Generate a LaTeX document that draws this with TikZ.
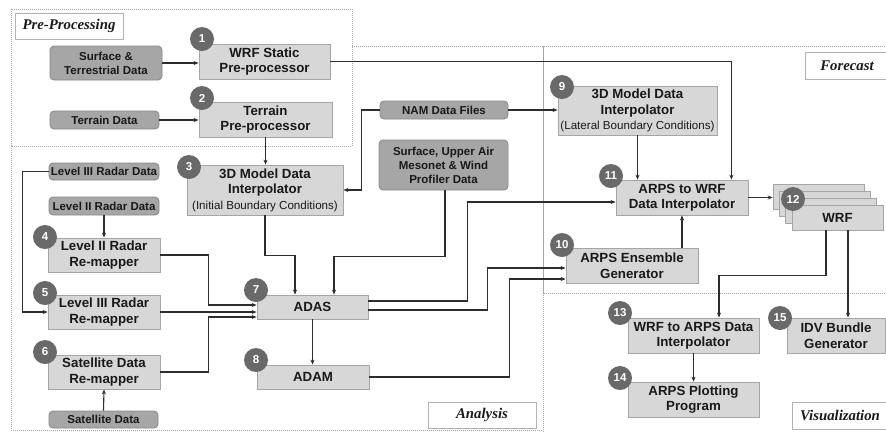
\documentclass[tikz,border=0pt]{standalone}
\usepackage{fontspec}
\setmainfont{Liberation Sans}
\newfontfamily\tagfont{Liberation Serif}
\usetikzlibrary{arrows.meta}

\definecolor{procfill}{RGB}{215,215,215}
\definecolor{procline}{RGB}{165,165,165}
\definecolor{datafill}{RGB}{166,166,166}
\definecolor{dataline}{RGB}{135,135,135}
\definecolor{numfill}{RGB}{105,105,105}
\definecolor{wire}{RGB}{45,45,45}
\definecolor{ink}{RGB}{25,25,25}

% boundary condition note under an interpolator
\newcommand{\bcnote}[1]{{\fontsize{11.6}{13}\selectfont\mdseries #1}}

\begin{document}
\begin{tikzpicture}[x=1pt,y=-1pt,
  proc/.style={draw=procline,fill=procfill,line width=0.8pt,inner sep=1pt,align=center,text=ink,
    font=\fontsize{13.3}{15.5}\selectfont\bfseries},
  data/.style={draw=dataline,fill=datafill,line width=0.8pt,rounded corners=4pt,inner sep=1pt,align=center,text=ink,
    font=\fontsize{11.5}{14}\selectfont\bfseries},
  num/.style={circle,fill=numfill,minimum size=24pt,inner sep=0pt,text=white,
    font=\fontsize{11.5}{12}\selectfont\bfseries},
  region/.style={draw=gray!70,densely dotted,line width=1pt},
  tag/.style={draw=gray!60,fill=white,line width=0.8pt,inner sep=0pt,text=ink,
    font=\tagfont\fontsize{14.8}{16}\selectfont\bfseries\itshape},
  flow/.style={draw=wire,line width=1.1pt,-{Stealth[length=5pt,width=4pt]}}]

\useasboundingbox (0,0) rectangle (886,432);

% working areas
\draw[region] (11,46) rectangle (543,430);
\draw[region] (543,46) rectangle (900,293);
\draw[region] (543,293) rectangle (900,440);
\draw[region,fill=white] (11,9) rectangle (352,146);

\node[tag,minimum width=108pt,minimum height=26pt] (pretag) at (69,26) {Pre-Processing};
\node[tag,minimum width=84pt,minimum height=27pt] (fctag) at (847,65.5) {Forecast};
\node[tag,minimum width=108pt,minimum height=26pt] (antag) at (482,415) {Analysis};
\node[tag,minimum width=96pt,minimum height=27pt] (vistag) at (840,415.5) {Visualization};

% input data
\node[data,minimum width=112pt,minimum height=34pt] (sfc) at (106,63) {Surface \&\\Terrestrial Data};
\node[data,minimum width=109pt,minimum height=18pt] (ter) at (104.5,120) {Terrain Data};
\node[data,minimum width=128pt,minimum height=18pt] (nam) at (444,110) {NAM Data Files};
\node[data,minimum width=129pt,minimum height=50pt] (sobs) at (443.5,165) {Surface, Upper Air\\Mesonet \& Wind\\Profiler Data};
\node[data,minimum width=110pt,minimum height=17pt] (lthree) at (104,171.5) {Level III Radar Data};
\node[data,minimum width=110pt,minimum height=18pt] (ltwo) at (104,206) {Level II Radar Data};
\node[data,minimum width=109pt,minimum height=17pt] (sat) at (103.5,419.5) {Satellite Data};

% processing steps
\node[proc,minimum width=131pt,minimum height=35pt] (wps) at (264.5,61.5) {WRF Static\\Pre-processor};
\node[proc,minimum width=133pt,minimum height=35pt] (terp) at (265.5,119.5) {Terrain\\Pre-processor};
\node[proc,minimum width=156pt,minimum height=50pt] (ibc) at (265,190) {3D Model Data\\Interpolator\\\bcnote{(Initial Boundary Conditions)}};
\node[proc,minimum width=159pt,minimum height=49pt] (lbc) at (637.5,110.5) {3D Model Data\\Interpolator\\\bcnote{(Lateral Boundary Conditions)}};
\node[proc,minimum width=112pt,minimum height=34pt] (ltwor) at (104,255) {Level II Radar\\Re-mapper};
\node[proc,minimum width=112pt,minimum height=34pt] (lthreer) at (104,312) {Level III Radar\\Re-mapper};
\node[proc,minimum width=112pt,minimum height=34pt] (satr) at (104,372) {Satellite Data\\Re-mapper};
\node[proc,minimum width=111pt,minimum height=24pt] (adas) at (312.5,307) {ADAS};
\node[proc,minimum width=112pt,minimum height=24pt] (adam) at (313,377) {ADAM};
\node[proc,minimum width=132pt,minimum height=35pt] (atow) at (682,197.5) {ARPS to WRF\\Data Interpolator};
\node[proc,minimum width=132pt,minimum height=35pt] (ens) at (632,265.5) {ARPS Ensemble\\Generator};
\foreach \k in {3,2,1}
  \node[proc,minimum width=91pt,minimum height=25pt] (wrf\k) at (837.5-6.3*\k,217.5-7*\k) {};
\node[proc,minimum width=91pt,minimum height=25pt] (wrf) at (837.5,217.5) {WRF};
\node[proc,minimum width=131pt,minimum height=35pt] (wtoa) at (693.5,335.5) {WRF to ARPS Data\\Interpolator};
\node[proc,minimum width=131pt,minimum height=35pt] (plot) at (693.5,399.5) {ARPS Plotting\\Program};
\node[proc,minimum width=98pt,minimum height=35pt] (idv) at (836,335.5) {IDV Bundle\\Generator};

% step numbers
\foreach \n/\p in {1/{(202,39)},2/{(202,98)},3/{(189,167)},4/{(45,237)},5/{(45,293)},
  6/{(45,352)},7/{(256,290)},8/{(256,360)},9/{(562,87)},10/{(562,245)},11/{(611,176)},
  12/{(793,199)},13/{(620,313)},14/{(620,378)},15/{(780,318)}}
  \node[num] (n\n) at \p {\n};

% connections
\draw[flow] (sfc.east) -- (sfc.east -| wps.west);
\draw[flow] (ter.east) -- (ter.east -| terp.west);
\draw[flow] (wps.east) -| ([xshift=-17pt]atow.north east);
\draw[flow] (terp.south) -- (terp.south |- ibc.north);
\draw[flow] (nam.west) -- ++(-18,0) |- (ibc.east);
\draw[flow] (nam.east) -- (nam.east -| lbc.west);
\draw[flow] (ltwo.south) -- (ltwor.north);
\draw[flow] (sat.north) -- (satr.south);
\draw[flow] (lthree.west) -- ++(-26,0) |- (lthreer.west);
\draw[flow] (ltwor.east) -- ++(48,0) |- ([yshift=2pt]adas.west);
\draw[flow] (lthreer.east) -- (lthreer.east -| adas.west);
\draw[flow] (satr.east) -- ++(48,0) |- ([yshift=-10pt]adas.west);
\draw[flow] (ibc.south) -- ++(0,40) -| ([xshift=-17.5pt]adas.north);
\draw[flow] ([xshift=1.5pt]sobs.south) -- ++(0,66) -| ([xshift=21.5pt]adas.north);
\draw[flow] (adas.south) -- (adas.south |- adam.north);
\draw[flow] ([yshift=6pt]adas.east) -- ++(99,0) |- ([yshift=-4.5pt]atow.west);
\draw[flow] ([yshift=-3pt]adas.east) -- ++(119,0) |- ([yshift=-2.5pt]ens.west);
\draw[flow] (adam.east) -- ++(140,0) |- ([yshift=-13.5pt]ens.west);
\draw[flow] (lbc.south) -- (lbc.south |- atow.north);
\draw[flow] (atow.south |- ens.north) -- (atow.south);
\draw[flow] (atow.east) -- (atow.east -| wrf3.west);
\draw[flow] ([xshift=-11.5pt]wrf.south) -- ++(0,45) -| ([xshift=25.5pt]wtoa.north);
\draw[flow] ([xshift=10.5pt]wrf.south) -- ([xshift=10.5pt]wrf.south |- idv.north);
\draw[flow] (wtoa.south) -- (plot.north);

\end{tikzpicture}
\end{document}
